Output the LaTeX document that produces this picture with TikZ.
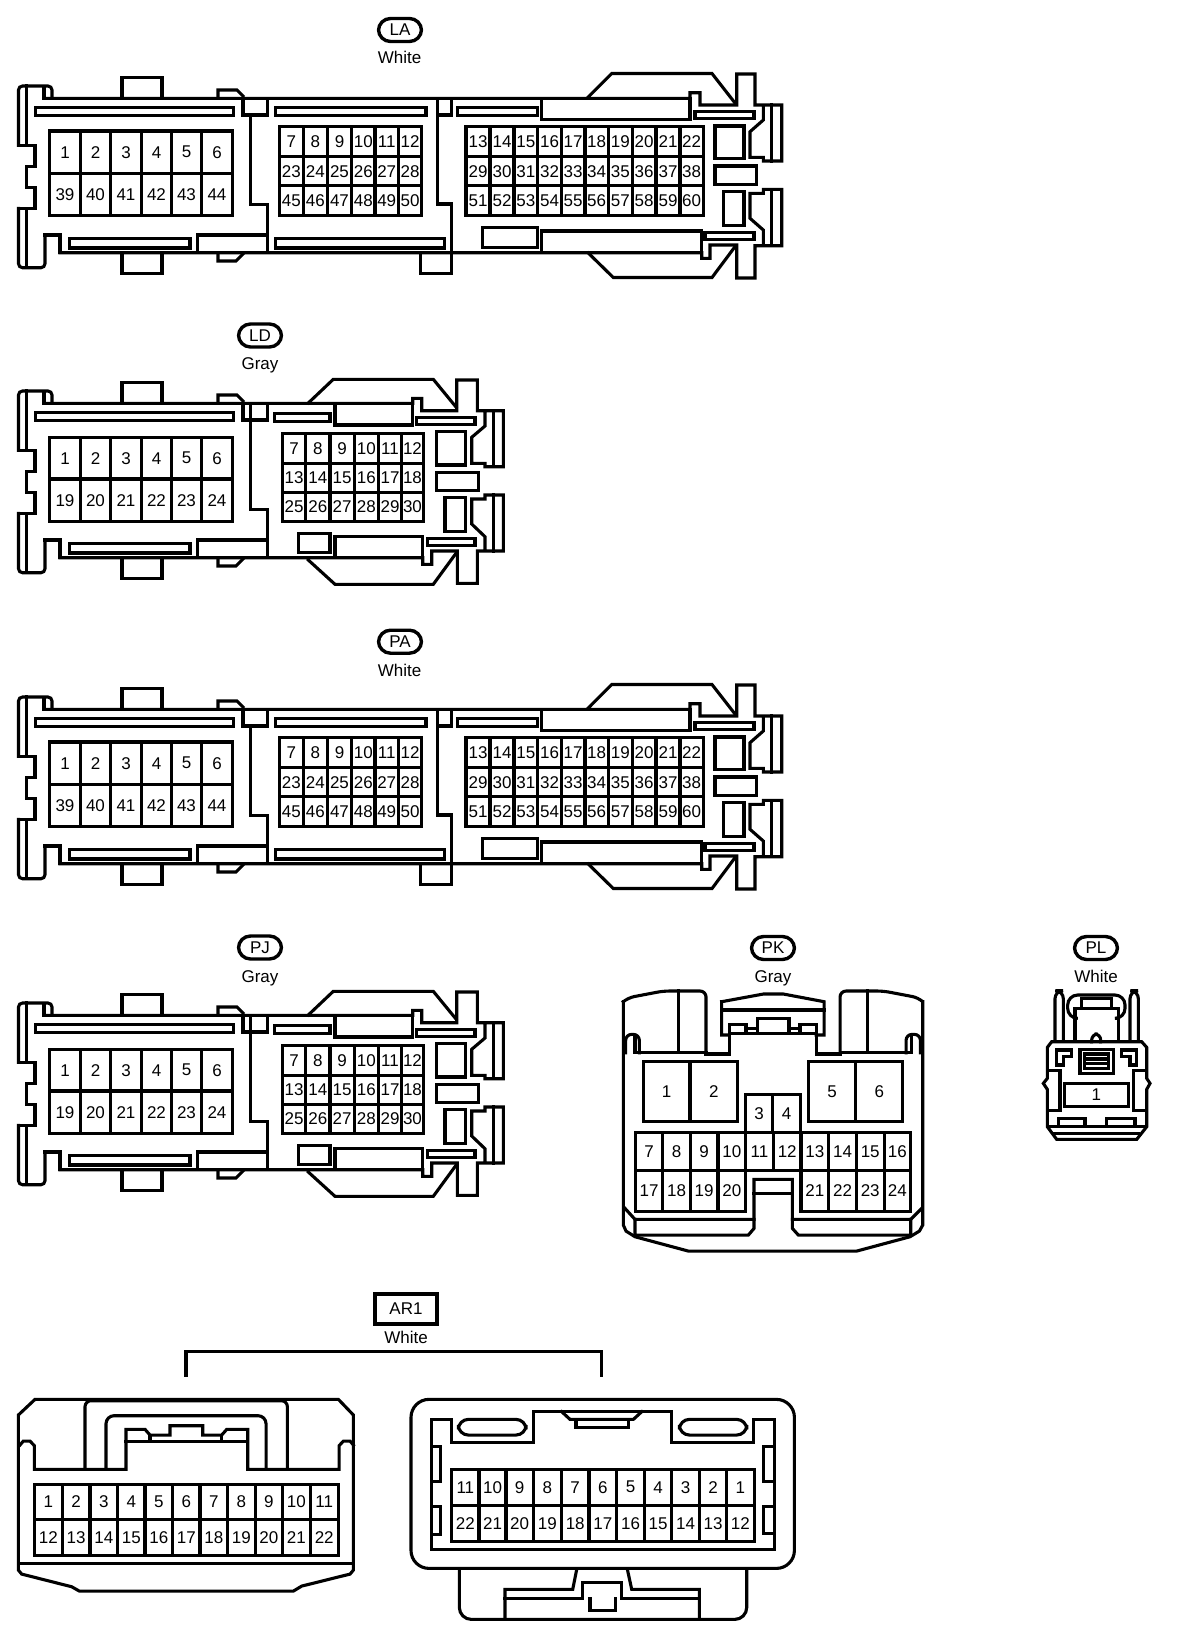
\documentclass[tikz,border=0pt]{standalone}
\usepackage{fontspec}
\setmainfont{Liberation Sans}
\usepackage{xcolor}

\tikzset{
  part/.style={line width=1.55pt, line cap=rect, line join=miter},
  pinbox/.style={part},
  pinlabel/.style={inner sep=0pt, font=\fontsize{8.5}{10}\selectfont},
  colourlabel/.style={inner sep=0pt, font=\fontsize{8.5}{10}\selectfont},
  badge/.style={draw, line width=1.7pt, rounded corners=6pt, minimum width=21.5pt,
    minimum height=11.5pt, inner sep=0pt, font=\fontsize{8.5}{10}\selectfont},
  namebox/.style={draw, line width=1.6pt, minimum width=31pt, minimum height=15pt,
    inner sep=0pt, font=\fontsize{8.5}{10}\selectfont},
}

% one row of pin cells: name, x positions, first column, top, bottom, pins
\newcommand{\pinrow}[6]{%
  \foreach \n [count=\c from #3] in {#6} {
    \pgfmathsetmacro{\xa}{{#2}[\c]}
    \pgfmathsetmacro{\xb}{{#2}[\c+1]}
    \draw[pinbox] (\xa,#4) rectangle (\xb,#5);
    \node[pinlabel] (#1-\n) at ({(\xa+\xb)/2},{(#4+#5)/2}) {\n};
  }
}

% left end shared by the long housings
\newcommand{\housingleft}{%
  \draw[part, rounded corners=2pt] (18.5,145.3) -- (18.5,86) -- (52,86) -- (52,98.3);
  \draw[part] (18.5,145.3) -- (35,145.3) -- (35,166.7) -- (26.7,166.7) -- (26.7,187.7)
    -- (35,187.7) -- (35,208.3) -- (18.5,208.3);
  \draw[part, rounded corners=2pt] (18.5,208.3) -- (18.5,267.7) -- (45,267.7) -- (45,235);
  \draw[part] (45,235) -- (60,235) -- (60,252.7);
  \draw[part] (26.7,86) -- (26.7,145.3) (26.7,208.3) -- (26.7,267.7);
  \draw[part] (44,87) -- (44,98.3);
  % tabs on the long edges
  \draw[part] (122,98.3) -- (122,77.3) -- (162,77.3) -- (162,98.3);
  \draw[part] (122,252.7) -- (122,273.3) -- (162,273.3) -- (162,252.7);
  \draw[part] (218,98.3) -- (218,90) -- (237,90) -- (243,96);
  \draw[part] (218,252.7) -- (218,261) -- (236,261) -- (243,254);
  % slots
  \draw[part] (35.5,107.3) rectangle (233.5,115.5);
  \draw[part] (69.5,238.5) rectangle (190,248);
  \draw[part] (197.3,252.7) -- (197.3,235) -- (267.7,235);
  % web between the two cavities
  \draw[part] (243,98.3) -- (243,115) -- (267.7,115) -- (267.7,98.3);
  \draw[part] (250.7,115) -- (250.7,204.7) -- (267.7,204.7) -- (267.7,252.7);
  % first pin block
  \def\colsa{49.3,80.7,110.3,141.7,171.3,201.7,232.3}
}

% ------------------------------------------------------------
% Long housing, three cavities: 60 pins
% ------------------------------------------------------------
\newcommand{\housinglong}[1]{%
  \housingleft
  \draw[part] (44,98.3) -- (690,98.3) -- (690,92.7) -- (700,92.7) -- (700,105)
    -- (736.7,105) -- (736.7,74) -- (755,74) -- (755,105) -- (781.7,105)
    -- (781.7,161) -- (763.3,161) -- (763.3,157.3) -- (750,157.3) -- (750,131.7)
    -- (763.3,120) -- (763.3,105);
  \draw[part] (771.7,105) -- (771.7,161);
  \draw[part] (60,252.7) -- (701.7,252.7) -- (701.7,258.3) -- (710,258.3) -- (710,245)
    -- (736.7,245) -- (736.7,278) -- (755,278) -- (755,245.7) -- (781.7,245.7)
    -- (781.7,189.3) -- (763.3,189.3) -- (763.3,193.3) -- (750,193.3) -- (750,218.3)
    -- (763.3,230) -- (763.3,245.7);
  \draw[part] (771.7,189.3) -- (771.7,245.7);
  \draw[part] (588.3,97) -- (611.7,73.5) -- (712,73.5) -- (735,103);
  \draw[part] (588.3,253) -- (613.3,277.5) -- (712,277.5) -- (735,246.7);
  % second web
  \draw[part] (437.3,98.3) -- (437.3,115) -- (451.7,115) -- (451.7,98.3);
  \draw[part] (437.3,115) -- (437.3,204) -- (451.7,204) -- (451.7,273.3) -- (420.7,273.3) -- (420.7,252.7);
  % slots and pockets
  \draw[part] (275.3,107.3) rectangle (426,115.5);
  \draw[part] (275.3,238.5) rectangle (444.3,248);
  \draw[part] (457.3,107.3) rectangle (537.7,115.5);
  \draw[part] (541.7,98.3) -- (541.7,119.3) -- (690,119.3) -- (690,98.3);
  \draw[part] (541.7,252.7) -- (541.7,231) -- (701.7,231) -- (701.7,252.7);
  \draw[part] (482.3,227.7) rectangle (537.7,247.7);
  \draw[part] (695,111.7) rectangle (754,118.3);
  \draw[part] (705,232.3) rectangle (754,239.3);
  \draw[part] (715,126) rectangle (744,158.3);
  \draw[part] (715,166) rectangle (756.7,184.3);
  \draw[part] (723.3,191.7) rectangle (744,225.7);
  % pin blocks
  \pinrow{#1}{\colsa}{0}{131}{173.3}{1,2,3,4,5,6}
  \pinrow{#1}{\colsa}{0}{173.3}{215.7}{39,40,41,42,43,44}
  \def\colsb{279.3,303.3,327.3,351.7,375,398.5,421.7}
  \pinrow{#1}{\colsb}{0}{126.7}{156.7}{7,8,9,10,11,12}
  \pinrow{#1}{\colsb}{0}{156.7}{185.7}{23,24,25,26,27,28}
  \pinrow{#1}{\colsb}{0}{185.7}{215.7}{45,46,47,48,49,50}
  \def\colsc{466,490,514,537.7,561.3,585,608.3,632.3,656,680,703.3}
  \pinrow{#1}{\colsc}{0}{126.7}{156.7}{13,14,15,16,17,18,19,20,21,22}
  \pinrow{#1}{\colsc}{0}{156.7}{185.7}{29,30,31,32,33,34,35,36,37,38}
  \pinrow{#1}{\colsc}{0}{185.7}{215.7}{51,52,53,54,55,56,57,58,59,60}
}

% ------------------------------------------------------------
% Short housing, two cavities: 30 pins
% ------------------------------------------------------------
\newcommand{\housingshort}[1]{%
  \housingleft
  \draw[part] (250.7,98.3) -- (250.7,115);
  \draw[part] (44,98.3) -- (412.7,98.3) -- (412.7,93.3) -- (421.7,93.3) -- (421.7,105.7)
    -- (456.7,105.7) -- (456.7,75) -- (477.3,75) -- (477.3,105.7) -- (503.3,105.7)
    -- (503.3,161.7) -- (485,161.7) -- (485,158.3) -- (471.7,158.3) -- (471.7,132.3)
    -- (485,121) -- (485,105.7);
  \draw[part] (493.3,105.7) -- (493.3,161.7);
  \draw[part] (60,252.7) -- (422.7,252.7) -- (422.7,259.3) -- (431.7,259.3) -- (431.7,246)
    -- (457.3,246) -- (457.3,278.3) -- (477.3,278.3) -- (477.3,246) -- (503.3,246)
    -- (503.3,190) -- (485,190) -- (485,194) -- (471.7,194) -- (471.7,219)
    -- (485,231.7) -- (485,246);
  \draw[part] (493.3,190) -- (493.3,246);
  \draw[part] (308.3,98) -- (333.3,74.3) -- (433.3,74.3) -- (456,102);
  \draw[part] (308.3,255) -- (335,279.3) -- (433.3,279.3) -- (456,248.3);
  % slots and pockets
  \draw[part] (274.3,108.3) rectangle (330,116.7);
  \draw[part] (335,98.3) -- (335,120) -- (412.7,120) -- (412.7,98.3);
  \draw[part] (335,252.7) -- (335,231.7) -- (422.7,231.7) -- (422.7,252.7);
  \draw[part] (298.3,228.3) rectangle (330,247.3);
  \draw[part] (416.7,112.3) rectangle (475,119.3);
  \draw[part] (427.3,233.3) rectangle (475,240.3);
  \draw[part] (436.7,126.7) rectangle (465.7,160);
  \draw[part] (436.7,167.3) rectangle (478.3,185.7);
  \draw[part] (445,192.7) rectangle (465.7,226.7);
  % pin blocks
  \pinrow{#1}{\colsa}{0}{132.3}{174}{1,2,3,4,5,6}
  \pinrow{#1}{\colsa}{0}{174}{216.7}{19,20,21,22,23,24}
  \def\colsb{282.7,305.7,330,354.3,378.3,401.7,423.3}
  \pinrow{#1}{\colsb}{0}{128.3}{158.3}{7,8,9,10,11,12}
  \pinrow{#1}{\colsb}{0}{158.3}{187.3}{13,14,15,16,17,18}
  \pinrow{#1}{\colsb}{0}{187.3}{216.7}{25,26,27,28,29,30}
}

\begin{document}
\begin{tikzpicture}[x=0.5pt,y=-0.5pt]
\useasboundingbox (0,0) rectangle (1184,1640);

% ------------------------------------------------------------
% Long and short housings
% ------------------------------------------------------------
\node[badge] (la) at (400,30) {LA};
\node[colourlabel] (lacol) at (399.5,57.5) {White};
\begin{scope}
  \housinglong{lapin}
\end{scope}

\node[badge] (ld) at (260,335.5) {LD};
\node[colourlabel] (ldcol) at (260,365.5) {Gray};
\begin{scope}[shift={(0,305)}]
  \housingshort{ldpin}
\end{scope}

\node[badge] (pa) at (400,641.7) {PA};
\node[colourlabel] (pacol) at (399.5,670) {White};
\begin{scope}[shift={(0,611)}]
  \housinglong{papin}
\end{scope}

\node[badge] (pj) at (260,947.5) {PJ};
\node[colourlabel] (pjcol) at (260,978) {Gray};
\begin{scope}[shift={(0,917)}]
  \housingshort{pjpin}
\end{scope}

% ------------------------------------------------------------
% PK: px = 600 + z/3, py = 930 + z/3
% ------------------------------------------------------------
\node[badge] (pk) at (773,948) {PK};
\node[colourlabel] (pkcol) at (773,978) {Gray};
\begin{scope}[shift={(600,930)}, x=0.1667pt, y=-0.1667pt]
  \draw[part, rounded corners=3pt] (70,215) -- (85,203) -- (190,183) -- (318,183) -- (318,372);
  \draw[part, rounded corners=3pt] (968,215) -- (955,203) -- (850,183) -- (720,183) -- (720,372);
  \draw[part] (70,215) -- (70,885) -- (78,903) -- (105,920) -- (265,963) -- (770,963)
    -- (930,920) -- (958,903) -- (968,885) -- (968,215);
  \draw[part] (235,183) -- (235,368) (803,183) -- (803,368);
  \draw[part] (105,368) -- (318,368) (318,372) -- (388,372) -- (388,315);
  \draw[part] (648,315) -- (648,372) -- (720,372) (720,368) -- (935,368);
  \draw[part, rounded corners=3pt] (77,368) -- (77,313) -- (118,313) -- (118,368);
  \draw[part] (105,318) -- (105,368);
  \draw[part, rounded corners=3pt] (961,368) -- (961,313) -- (918,313) -- (918,368);
  \draw[part] (935,318) -- (935,368);
  % locking clip
  \draw[part] (365,215) -- (490,192) -- (550,192) -- (672,215) -- (672,315) -- (648,315)
    (365,215) -- (365,315) -- (388,315);
  \draw[part] (365,240) -- (672,240);
  \draw[part] (388,315) -- (388,283) -- (438,283) -- (438,310);
  \draw[part] (648,315) -- (648,283) -- (600,283) -- (600,310);
  \draw[part] (388,310) -- (648,310);
  \draw[part] (438,295) -- (472,295) (567,295) -- (600,295);
  \draw[part] (472,310) -- (472,265) -- (567,265) -- (567,310);
  % bottom skirt
  \draw[part] (75,835) -- (105,868) -- (462,868);
  \draw[part] (105,868) -- (105,915) -- (445,915) -- (462,895) -- (462,748) -- (577,748)
    -- (577,895) -- (595,915) -- (932,915) -- (932,868);
  \draw[part] (577,868) -- (932,868) -- (965,835);
  \draw[part] (462,790) -- (577,790);
  % pin blocks
  \def\colsk{130,270,413}
  \pinrow{pkpin}{\colsk}{0}{395}{575}{1,2}
  \def\colsk{625,767,908}
  \pinrow{pkpin}{\colsk}{0}{395}{575}{5,6}
  \def\colsk{437,518,602}
  \pinrow{pkpin}{\colsk}{0}{492}{607}{3,4}
  \def\colsk{106,188,271,354,437,520,603,686,769,852,932}
  \pinrow{pkpin}{\colsk}{0}{607}{722}{7,8,9,10,11,12,13,14,15,16}
  \pinrow{pkpin}{\colsk}{0}{722}{843}{17,18,19,20}
  \pinrow{pkpin}{\colsk}{6}{722}{843}{21,22,23,24}
\end{scope}

% ------------------------------------------------------------
% PL
% ------------------------------------------------------------
\node[badge] (pl) at (1096,948) {PL};
\node[colourlabel] (plcol) at (1096,976) {White};
\begin{scope}[shift={(1020,930)}, x=0.1667pt, y=-0.1667pt]
  \draw[part, rounded corners=4pt] (105,333) -- (105,182) -- (130,182) -- (130,333);
  \draw[part, rounded corners=4pt] (330,333) -- (330,182) -- (355,182) -- (355,333);
  \draw[part] (82,352) -- (95,335) -- (365,335) -- (380,352) -- (380,445) -- (390,460)
    -- (380,478) -- (380,590) -- (350,628) -- (110,628) -- (82,590) -- (82,478)
    -- (70,460) -- (82,445) -- cycle;
  \draw[part, rounded corners=5pt] (165,265) -- (143,265) -- (143,195) -- (315,195) -- (315,265) -- (295,265);
  \draw[part] (165,335) -- (165,235) -- (295,235) -- (295,335);
  \draw[part] (185,235) -- (185,205) -- (275,205) -- (275,235);
  \draw[part, rounded corners=3pt] (215,335) -- (215,312) -- (242,312) -- (242,335);
  \draw[part] (180,358) rectangle (280,430);
  \draw[part] (193,372) rectangle (265,415);
  \draw[part] (193,387) -- (265,387) (193,400) -- (265,400);
  \draw[part] (110,360) -- (155,360) -- (155,380) -- (130,380) -- (130,405) -- (110,405) -- cycle;
  \draw[part] (350,360) -- (305,360) -- (305,380) -- (330,380) -- (330,405) -- (350,405) -- cycle;
  \draw[part] (85,422) -- (120,422) -- (120,540) -- (85,540);
  \draw[part] (378,422) -- (340,422) -- (340,540) -- (378,540);
  \draw[part] (115,588) -- (115,565) -- (195,565) -- (195,588);
  \draw[part] (260,588) -- (260,565) -- (345,565) -- (345,588);
  \draw[part] (90,590) -- (370,590) (105,610) -- (355,610);
  \def\colsl{133,325}
  \pinrow{plpin}{\colsl}{0}{460}{530}{1}
\end{scope}

% ------------------------------------------------------------
% AR1 pair with its bracket
% ------------------------------------------------------------
\node[namebox] (ar) at (406,1309) {AR1};
\node[colourlabel] (arcol) at (406,1337) {White};
\coordinate (brl) at (186,1376.7);
\coordinate (brr) at (601.7,1376.7);
\draw[part, line cap=butt] (brl) |- (406,1351.7) -| (brr);

\begin{scope}[shift={(0,1280)}, x=0.1667pt, y=-0.1667pt]
  \draw[part] (55,405) -- (55,870) -- (65,882) -- (215,920) -- (238,933) -- (880,933)
    -- (905,918) -- (1050,882) -- (1060,870) -- (1060,405) -- (1015,358) -- (105,358) -- cycle;
  \draw[part] (55,850) -- (1060,850);
  \draw[part] (60,495) -- (70,483) -- (90,483) -- (103,497) -- (103,568) -- (378,568) -- (378,448)
    -- (435,448) -- (450,465) -- (510,465) -- (510,437) -- (608,437) -- (608,465) -- (665,465)
    -- (680,448) -- (743,448) -- (743,568) -- (1017,568) -- (1017,497) -- (1030,483) -- (1050,483) -- (1060,495);
  \draw[part] (378,483) -- (743,483) (450,465) -- (450,483) (665,465) -- (665,483);
  \draw[part, rounded corners=3pt] (255,568) -- (255,362) -- (862,362) -- (862,568);
  \draw[part, rounded corners=4pt] (318,568) -- (318,407) -- (798,407) -- (798,568);
  \def\colsf{103,187,270,353,435,518,600,683,765,848,930,1015}
  \pinrow{arlpin}{\colsf}{0}{613}{718}{1,2,3,4,5,6,7,8,9,10,11}
  \pinrow{arlpin}{\colsf}{0}{718}{827}{12,13,14,15,16,17,18,19,20,21,22}
\end{scope}

\begin{scope}[shift={(400,1280)}, x=0.1667pt, y=-0.1667pt]
  \draw[part, rounded corners=9pt] (33,358) rectangle (1183,865);
  \draw[part] (95,418) -- (95,808) -- (1122,808) -- (1122,418) -- (1060,418) -- (1060,488)
    -- (815,488) -- (815,395) -- (400,395) -- (400,488) -- (155,488) -- (155,418) -- cycle;
  \draw[part, rounded corners=5pt] (175,418) rectangle (378,465);
  \draw[part, rounded corners=5pt] (838,418) rectangle (1040,465);
  \draw[part] (485,395) -- (510,418) -- (700,418) -- (725,395);
  \draw[part] (528,418) -- (528,442) -- (685,442) -- (685,418);
  \draw[part] (95,498) -- (122,498) -- (122,603) -- (95,603);
  \draw[part] (95,680) -- (122,680) -- (122,762) -- (95,762);
  \draw[part] (1122,498) -- (1090,498) -- (1090,603) -- (1122,603);
  \draw[part] (1122,680) -- (1090,680) -- (1090,760) -- (1122,760);
  \def\colsr{155,237,318,400,484,567,650,733,815,898,980,1062}
  \pinrow{arrpin}{\colsr}{0}{568}{675}{11,10,9,8,7,6,5,4,3,2,1}
  \pinrow{arrpin}{\colsr}{0}{675}{785}{22,21,20,19,18,17,16,15,14,13,12}
  % latch below the shell
  \draw[part, rounded corners=6pt] (178,868) -- (178,1018) -- (1040,1018) -- (1040,868);
  \draw[part] (530,868) -- (518,928) -- (315,928) -- (315,1018);
  \draw[part] (315,955) -- (548,955) (665,955) -- (898,955);
  \draw[part] (898,1018) -- (898,928) -- (695,928) -- (682,868);
  \draw[part] (548,955) -- (548,908) -- (665,908) -- (665,955);
  \draw[part] (570,955) -- (570,990) -- (645,990) -- (645,955);
\end{scope}
\end{tikzpicture}
\end{document}
